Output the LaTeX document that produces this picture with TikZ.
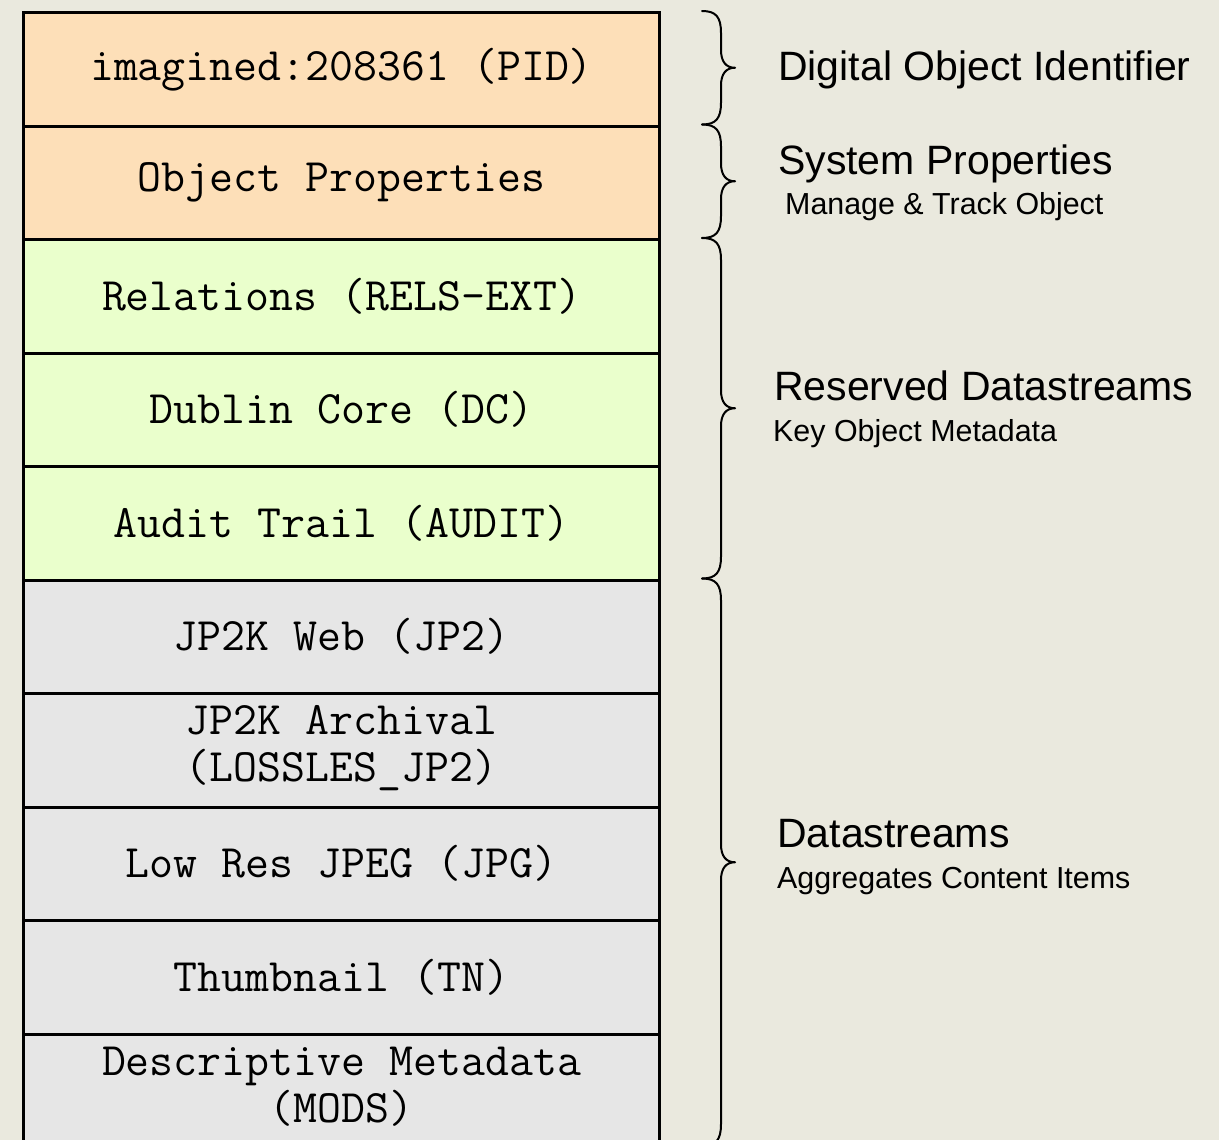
\documentclass[tikz,border=0pt]{standalone}
\usepackage{fontspec}
\setmainfont{Liberation Sans}
\definecolor{paper}{RGB}{234,233,222}
\definecolor{peach}{RGB}{253,223,184}
\definecolor{lime}{RGB}{234,255,204}
\definecolor{lgray}{RGB}{230,230,230}
\begin{document}
\begin{tikzpicture}[x=1pt,y=-1pt,
  rowfont/.style={font=\fontsize{46.5}{50}\selectfont\ttfamily},
  row/.style={draw=black, line width=3pt, minimum width=636pt, minimum height=113.5pt,
    inner sep=0pt, rowfont, align=center, anchor=north west},
  idrow/.style={row, fill=peach},
  resrow/.style={row, fill=lime},
  dsrow/.style={row, fill=lgray},
  rowtext/.style={inner sep=0pt, rowfont, align=center},
  bigl/.style={anchor=base west, inner sep=0pt, font=\fontsize{41}{48}\selectfont},
  smalll/.style={anchor=base west, inner sep=0pt, font=\fontsize{30.4}{36}\selectfont},
  bracel/.style={draw=black, line width=2pt, line cap=round, line join=round}]
\fill[paper] (0,0) rectangle (1219,1140);
\useasboundingbox (0,0) rectangle (1219,1140);
\clip (0,0) rectangle (1219,1140);
% rows
\node[idrow]  (pid)   at (22,11)     {imagined:208361 (PID)};
\node[idrow]  (props) at (22,124.5)  {Object Properties};
\node[resrow] (rels)  at (22,238)    {Relations (RELS-EXT)};
\node[resrow] (dc)    at (22,351.5)  {Dublin Core (DC)};
\node[resrow] (audit) at (22,465)    {Audit Trail (AUDIT)};
\node[dsrow]  (jp2)   at (22,578.5)  {JP2K Web (JP2)};
\node[dsrow]  (arch)  at (22,692)    {};
\node[rowtext] (archt) at ([yshift=2pt]arch.center) {JP2K Archival\\[-3pt](LOSSLES\_JP2)};
\node[dsrow]  (jpg)   at (22,805.5)  {Low Res JPEG (JPG)};
\node[dsrow]  (tn)    at (22,919)    {Thumbnail (TN)};
\node[dsrow]  (mods)  at (22,1032.5) {};
\node[rowtext] (modst) at ([yshift=4pt]mods.center) {Descriptive Metadata\\[-3pt](MODS)};
% braces
\foreach \ya/\yb in {11/124.5, 124.5/238, 238/578.5, 578.5/1146}{
  \pgfmathsetmacro{\ym}{(\ya+\yb)/2}
  \draw[bracel] (702,\ya) .. controls (716,\ya) and (721,\ya+6) .. (721,\ya+22)
    -- (721,\ym-18) .. controls (721,\ym-6) and (726,\ym) .. (735,\ym)
    .. controls (726,\ym) and (721,\ym+6) .. (721,\ym+18)
    -- (721,\yb-22) .. controls (721,\yb-6) and (716,\yb) .. (702,\yb);
}
% labels
\node[bigl]   (doi)  at (778,81)  {Digital Object Identifier};
\node[bigl]   (sys)  at (778,174) {System Properties};
\node[smalll] (sysd) at (785,214) {Manage \& Track Object};
\node[bigl]   (res)  at (774,400) {Reserved Datastreams};
\node[smalll] (resd) at (773,441) {Key Object Metadata};
\node[bigl]   (ds)   at (777,847) {Datastreams};
\node[smalll] (dsd)  at (777,888) {Aggregates Content Items};
\end{tikzpicture}
\end{document}
